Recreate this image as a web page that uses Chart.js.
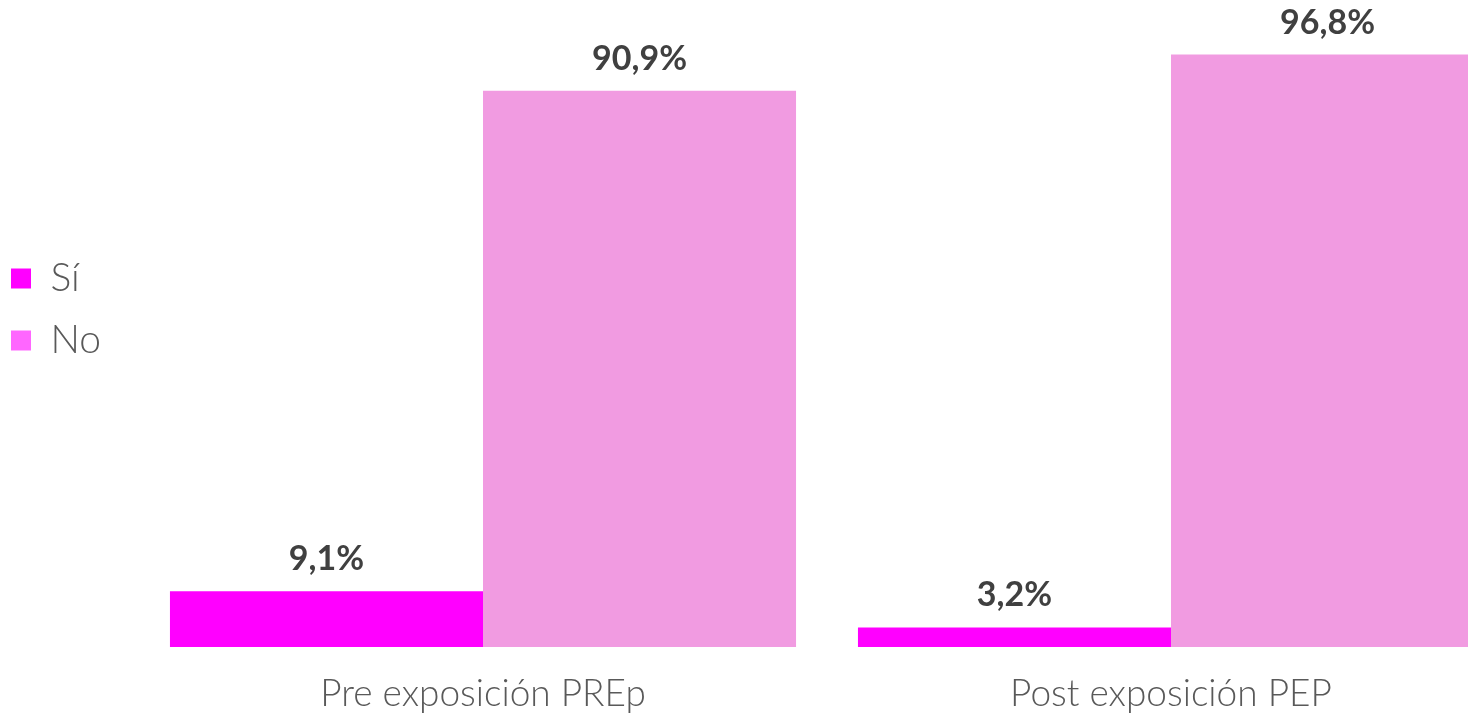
<!DOCTYPE html>
<html>
<head>
<meta charset="utf-8">
<script src="https://cdn.jsdelivr.net/npm/chart.js@4.4.1/dist/chart.umd.min.js"></script>
<style>
  html, body { margin: 0; padding: 0; background: #ffffff; overflow: hidden; }
  #wrap { position: relative; width: 1515px; height: 714px; }
</style>
</head>
<body>
<div id="wrap"><canvas id="c"></canvas></div>
<script>
const categories = ['Pre exposición PREp', 'Post exposición PEP'];
const seriesNames = ['Sí', 'No'];
const siValues = [9.1, 3.2];
const noValues = [90.9, 96.8];
const barColors = ['#FF00FF', '#F19BE1'];
const legendColors = ['#FF00FF', '#FF66FF'];

function fmt(v) { return v.toFixed(1).replace('.', ',') + '%'; }

const valueLabels = {
  id: 'valueLabels',
  afterDatasetsDraw(chart) {
    const ctx = chart.ctx;
    ctx.save();
    ctx.font = 'bold 34px Lato';
    ctx.fillStyle = '#404040';
    ctx.textAlign = 'center';
    ctx.textBaseline = 'middle';
    chart.data.datasets.forEach((ds, i) => {
      chart.getDatasetMeta(i).data.forEach((bar, j) => {
        ctx.fillText(fmt(ds.data[j]), bar.x, bar.y - 32);
      });
    });
    ctx.restore();
  }
};

new Chart(document.getElementById('c'), {
  type: 'bar',
  data: {
    labels: categories,
    datasets: [
      { label: seriesNames[0], data: siValues, backgroundColor: barColors[0], borderWidth: 0 },
      { label: seriesNames[1], data: noValues, backgroundColor: barColors[1], borderWidth: 0 }
    ]
  },
  options: {
    responsive: true,
    maintainAspectRatio: false,
    animation: false,
    layout: { padding: { top: 35, left: -12, right: 0, bottom: 0 } },
    datasets: { bar: { categoryPercentage: 0.91, barPercentage: 1.0 } },
    plugins: {
      tooltip: { enabled: false },
      legend: {
        position: 'left',
        align: 'start',
        title: { display: true, text: ' ', font: { size: 10 }, padding: { top: 189, bottom: 0 } },
        labels: {
          boxWidth: 20,
          boxHeight: 20,
          padding: 23,
          color: '#595959',
          font: { family: 'Lato', size: 39, weight: '300' },
          generateLabels(chart) {
            const items = Chart.defaults.plugins.legend.labels.generateLabels(chart);
            items.forEach((it, i) => {
              it.fillStyle = legendColors[i];
              it.strokeStyle = legendColors[i];
              it.lineWidth = 0;
            });
            return items;
          }
        }
      }
    },
    scales: {
      x: {
        grid: { display: false },
        border: { display: false },
        ticks: { color: '#595959', padding: 17, font: { family: 'Lato', size: 37, weight: '300' } },
        afterFit(scale) { scale.height = 67; }
      },
      y: {
        min: 0,
        max: 100,
        grid: { display: false },
        border: { display: false },
        ticks: { display: false },
        afterFit(scale) {
          const lg = scale.chart.legend;
          const lw = lg ? lg.width : 0;
          scale.width = Math.max(0, 139 - lw - (-12));
        }
      }
    }
  },
  plugins: [valueLabels]
});
</script>
</body>
</html>
